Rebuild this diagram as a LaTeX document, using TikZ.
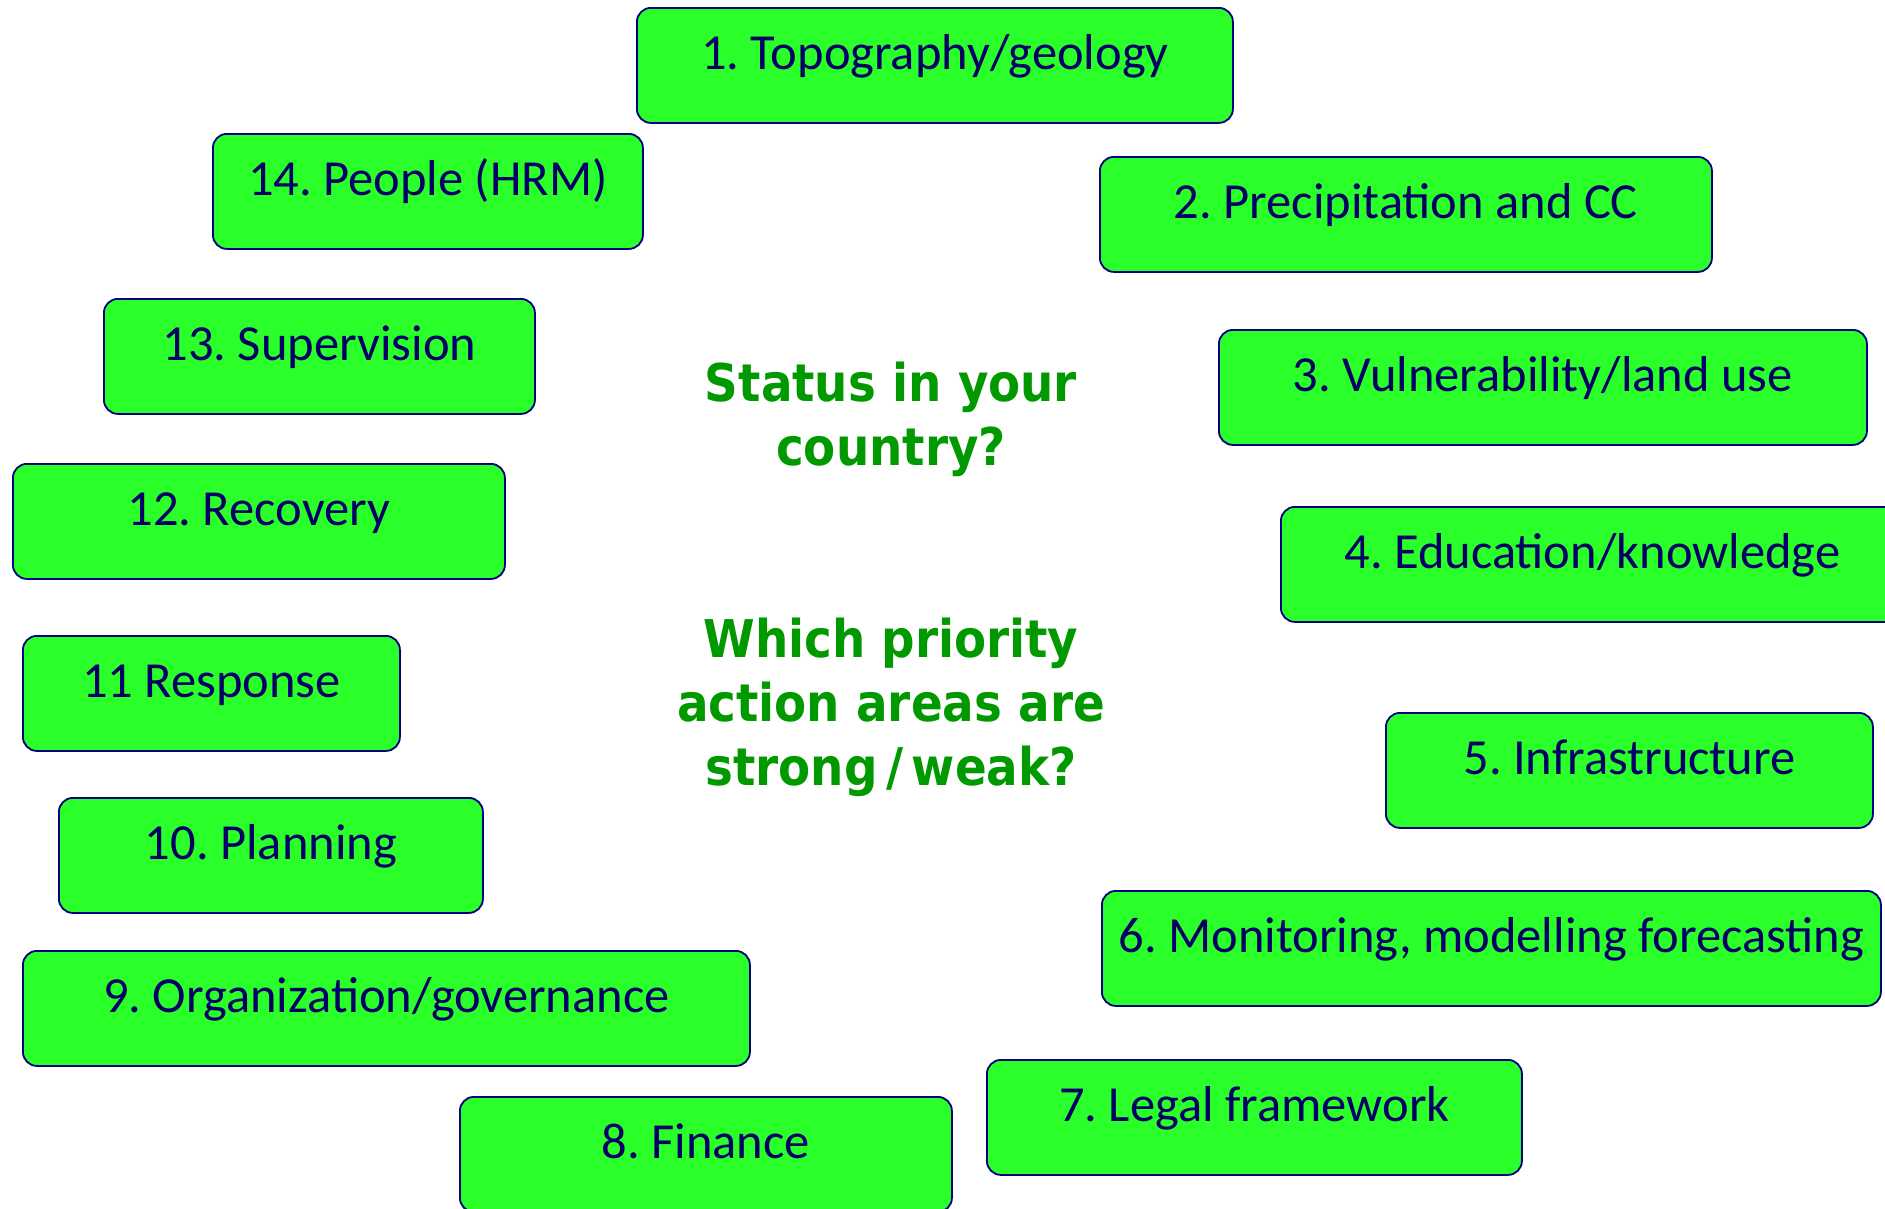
\documentclass[tikz,border=0pt]{standalone}
\usepackage{fontspec}
\setmainfont{Carlito}
\newfontfamily\headfont{DejaVu Sans Condensed}
\usepackage{xcolor}
\usepackage{tikz}
\frenchspacing

\definecolor{areafill}{RGB}{42,255,42}
\definecolor{arealine}{RGB}{0,0,128}
\definecolor{areatext}{RGB}{0,0,102}
\definecolor{qgreen}{RGB}{0,153,0}

\begin{document}
\begin{tikzpicture}[x=1pt, y=-1pt,
  area/.style={draw=arealine, line width=1.8pt, fill=areafill, rounded corners=14pt,
    anchor=north west, inner sep=0pt, text=areatext,
    font=\fontsize{50.5}{58}\selectfont, text height=62pt, text depth=53pt},
  question/.style={text=qgreen, font=\headfont\bfseries\fontsize{52}{64}\selectfont,
    align=center}]

% page size of the slide
\useasboundingbox (0,0) rectangle (1885,1208);
\clip (0,0) rectangle (1885,1208);

% right half, clockwise from the top
\node[area, minimum width=596pt] (TOP) at (636,7)    {1. Topography/geology};
\node[area, minimum width=612pt] (PRE) at (1099,156) {2. Precipitation and CC};
\node[area, minimum width=648pt] (VUL) at (1218,329) {3. Vulnerability/land use};
\node[area, minimum width=623pt] (EDU) at (1280,506) {4. Education/knowledge};
\node[area, minimum width=487pt] (INF) at (1385,712) {5. Infrastructure};
\node[area, minimum width=779pt] (MON) at (1101,890) {6. Monitoring, modelling forecasting};
\node[area, minimum width=535pt] (LEG) at (986,1059) {7. Legal framework};
%

% left half
\node[area, minimum width=492pt] (FIN) at (459,1096) {8. Finance};
\node[area, minimum width=727pt] (ORG) at (22,950)   {9. Organization/governance};
\node[area, minimum width=424pt] (PLA) at (58,797)   {10. Planning};
\node[area, minimum width=377pt] (RES) at (22,635)   {11 Response};
\node[area, minimum width=492pt] (REC) at (12,463)   {12. Recovery};
\node[area, minimum width=431pt] (SUP) at (103,298)  {13. Supervision};
\node[area, minimum width=430pt] (PEO) at (212,133)  {14. People (HRM)};
%

% questions in the middle
\node[question] (STATUS) at (891,419) {Status in your\\country?};
\node[question] (PRIO)   at (891,707) {Which priority\\action areas are\\strong\,/\,weak?};
\end{tikzpicture}
\end{document}
